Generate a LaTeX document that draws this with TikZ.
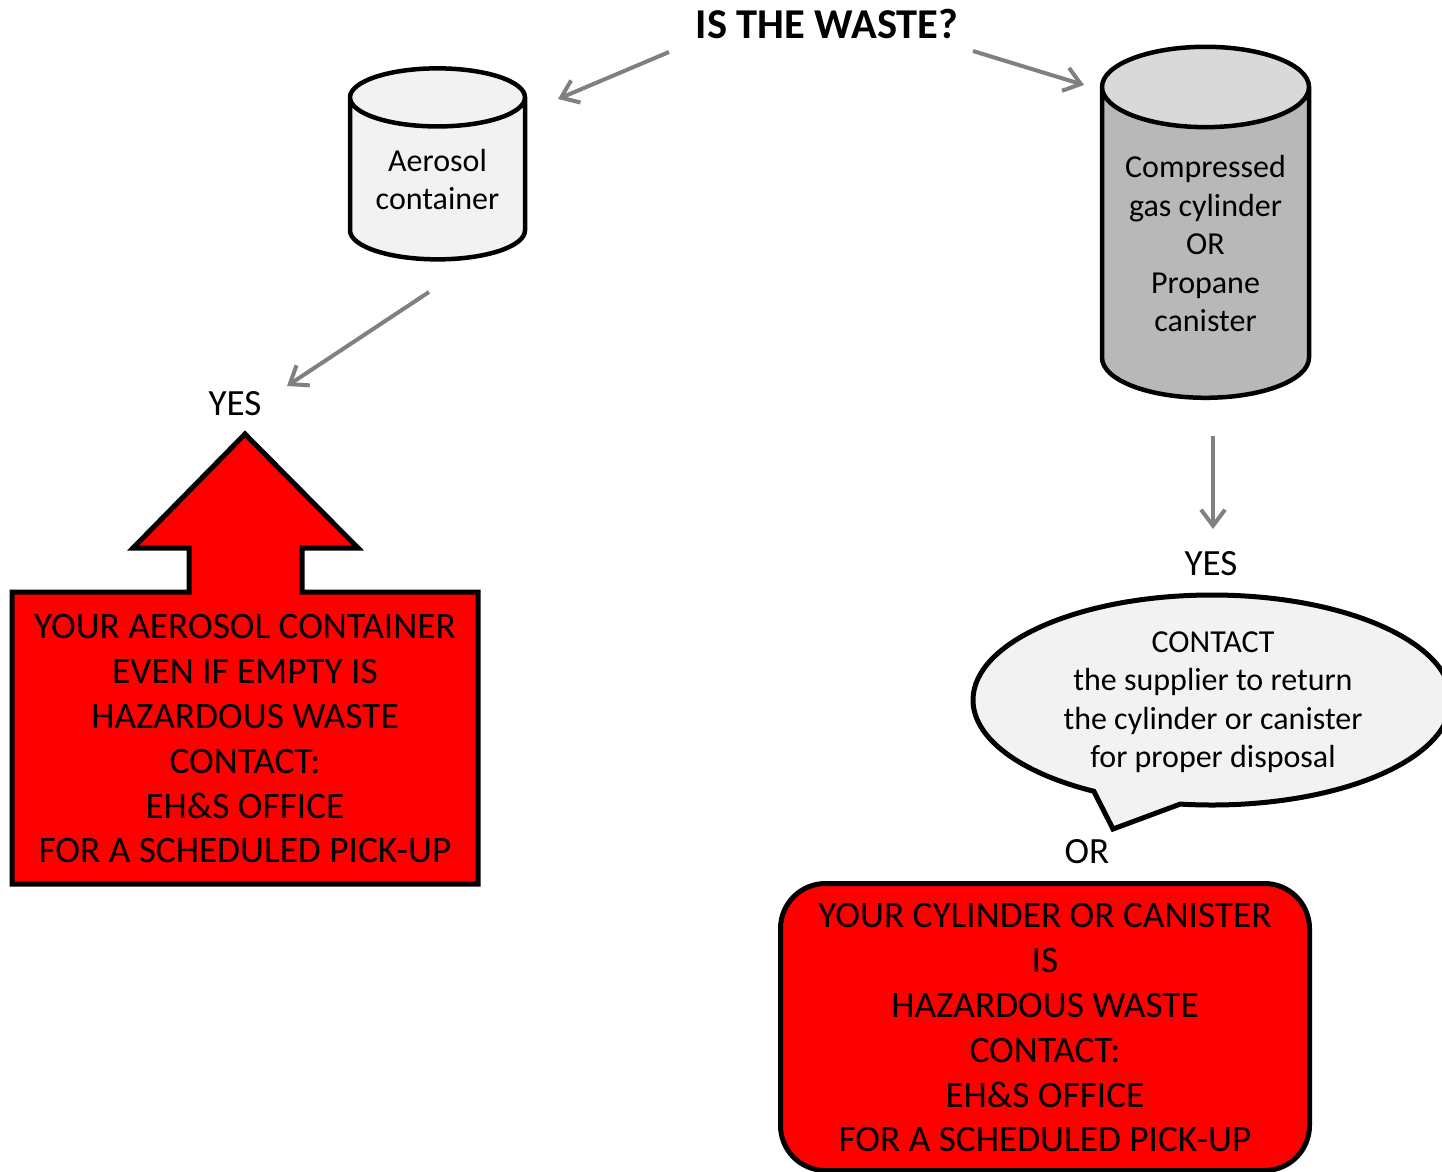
\documentclass[tikz,border=0pt]{standalone}
\usepackage{fontspec}
\setmainfont{Carlito}
\usetikzlibrary{shapes.geometric,shapes.callouts,arrows.meta}
\tikzset{
    tank/.style={cylinder, shape border rotate=90, draw, line width=4.5pt, cylinder uses custom fill, align=center, font=\fontsize{32}{38.5}\selectfont, inner sep=0pt, outer sep=0pt},
    tanktext/.style={align=center, font=\fontsize{32}{38.5}\selectfont, inner sep=0pt},
    flow/.style={draw=gray, line width=4pt, -{Straight Barb[length=16pt,width=24pt,line width=4pt]}},
    redtext/.style={align=center, font=\fontsize{37.3}{44.8}\selectfont, inner sep=0pt},
    word/.style={font=\fontsize{37}{40}\selectfont, inner sep=0pt}
}
\begin{document}
\begin{tikzpicture}[x=1pt,y=-1pt]
    \useasboundingbox (0,0) rectangle (1442,1171);
    \node[font=\fontsize{42.5}{46}\selectfont\bfseries, inner sep=0pt] (Waste) at (827,24) {IS THE WASTE?};
    \node[tank, minimum width=175pt, minimum height=191pt, aspect=0.47, cylinder end fill=black!5, cylinder body fill=black!5] (Aerosol) at (437.5,179.5) {Aerosol\\container};
    \node[tank, minimum width=207pt, minimum height=351pt, aspect=0.5, cylinder end fill=black!15, cylinder body fill=black!28] (Gas) at (1205.5,243.5) {Compressed\\gas cylinder\\OR\\Propane\\canister};
    \node[word] (YesLeft) at (235,404) {YES};
    \node[word] (YesRight) at (1211,564) {YES};
    \node[word] (Or) at (1087,852) {OR};
    % left red arrow box
    \draw[line width=5pt, fill=red, miter limit=10] (245,434) -- (358,548) -- (302,548) -- (302,592) -- (478,592) -- (478,884) -- (12,884) -- (12,592) -- (189,592) -- (189,548) -- (133,548) -- cycle;
    \node[redtext] (AerosolBox) at (245,739) {YOUR AEROSOL CONTAINER\\EVEN IF EMPTY IS\\HAZARDOUS WASTE\\CONTACT:\\EH\&S OFFICE\\FOR A SCHEDULED PICK-UP};
    % speech bubble
    \node[ellipse callout, draw, line width=5pt, fill=black!5, minimum width=478pt, minimum height=210pt, inner sep=0pt, callout absolute pointer={(1113,829)}, callout pointer arc=22, tanktext] (Bubble) at (1212,700) {};
    \node[tanktext] (BubbleText) at (1213,702) {CONTACT\\the supplier to return\\the cylinder or canister\\for proper disposal};
    \node[draw, line width=5pt, fill=red, rounded corners=45pt, minimum width=529pt, minimum height=287pt, redtext] (CylinderBox) at (1045,1027) {};
    \node[redtext] (CylinderText) at (1045,1028) {YOUR CYLINDER OR CANISTER\\IS\\HAZARDOUS WASTE\\CONTACT:\\EH\&S OFFICE\\FOR A SCHEDULED PICK-UP};
    % arrows
    \coordinate (WasteL) at (669,52);
    \coordinate (WasteR) at (973,51);
    \coordinate (AerosolIn) at (558,99);
    \coordinate (GasIn) at (1084,85);
    \coordinate (AerosolOut) at (429,292);
    \coordinate (YesLeftIn) at (287,386);
    \coordinate (GasOut) at (1213,436);
    \coordinate (YesRightIn) at (1213,529);
    \draw[flow] (WasteL) -- (AerosolIn);
    \draw[flow] (WasteR) -- (GasIn);
    \draw[flow] (AerosolOut) -- (YesLeftIn);
    \draw[flow] (GasOut) -- (YesRightIn);
\end{tikzpicture}
\end{document}
